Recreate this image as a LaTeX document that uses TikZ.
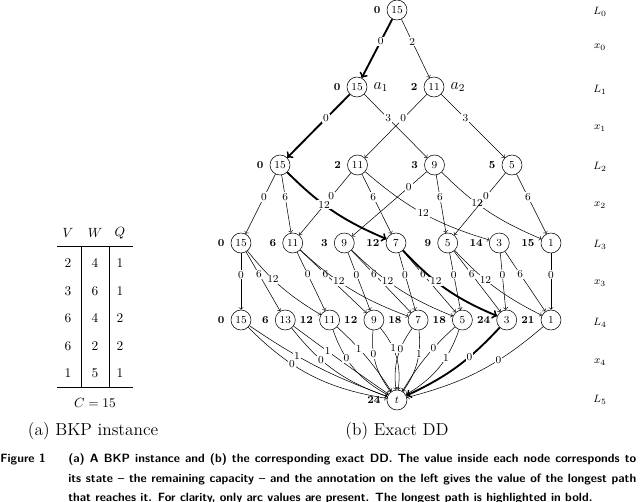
\documentclass[tikz,border=0pt]{standalone}
\usepackage{fontspec}
\tikzset{
  st/.style={circle,draw,line width=0.4pt,minimum size=15pt,inner sep=0pt,font=\footnotesize},
  val/.style={font=\footnotesize\bfseries},
  alab/.style={font=\large},
  edg/.style={->,line width=0.4pt},
  bestedg/.style={->,line width=1.4pt},
  elab/.style={fill=white,inner sep=0.8pt,font=\footnotesize,pos=0.38},
  lvl/.style={font=\footnotesize},
  tab/.style={font=\normalsize},
  sub/.style={font=\fontsize{13}{15}\selectfont},
  captxt/.style={font=\sffamily\bfseries\fontsize{9}{11}\selectfont,inner sep=0pt,anchor=base west},
}
\begin{document}
\begin{tikzpicture}[x=0.75pt,y=0.75pt,label distance=1.2pt]
\useasboundingbox (0,-501) rectangle (640,0);
\clip (0,-501) rectangle (640,0);
% ---------- nodes ----------
\node[st,label={[val]left:0}] (r) at (397,-10) {15};
\node[st,label={[val]left:0},label={[alab]right:$a_1$}] (a15) at (357,-87) {15};
\node[st,label={[val]left:2},label={[alab]right:$a_2$}] (a11) at (434,-87) {11};
\node[st,label={[val]left:0}] (b15) at (280,-165) {15};
\node[st,label={[val]left:2}] (b11) at (357.5,-165) {11};
\node[st,label={[val]left:3}] (b9) at (434.5,-165) {9};
\node[st,label={[val]left:5}] (b5) at (512,-165) {5};
\node[st,label={[val]left:0}] (c15) at (241,-243) {15};
\node[st,label={[val]left:6}] (c11) at (292.7,-243) {11};
\node[st,label={[val]left:3}] (c9) at (344.3,-243) {9};
\node[st,label={[val]left:12}] (c7) at (396,-243) {7};
\node[st,label={[val]left:9}] (c5) at (447.7,-243) {5};
\node[st,label={[val]left:14}] (c3) at (499.3,-243) {3};
\node[st,label={[val]left:15}] (c1) at (551,-243) {1};
\node[st,label={[val]left:0}] (d15) at (241,-320) {15};
\node[st,label={[val]left:6}] (d13) at (285.3,-320) {13};
\node[st,label={[val]left:12}] (d11) at (329.6,-320) {11};
\node[st,label={[val]left:12}] (d9) at (373.9,-320) {9};
\node[st,label={[val]left:18}] (d7) at (418.1,-320) {7};
\node[st,label={[val]left:18}] (d5) at (462.4,-320) {5};
\node[st,label={[val]left:24}] (d3) at (506.7,-320) {3};
\node[st,label={[val]left:21}] (d1) at (551,-320) {1};
\node[st,label={[val]left:24}] (t) at (397,-400) {$t$};
% ---------- x0 ----------
\draw[edg] (r) -- node[elab] {2} (a11);
% ---------- x1 ----------
\draw[edg] (a15) -- node[elab] {3} (b9);
\draw[edg] (a11) -- node[elab] {0} (b11);
\draw[edg] (a11) -- node[elab] {3} (b5);
% ---------- x2 ----------
\draw[edg] (b15) -- node[elab] {0} (c15);
\draw[edg] (b15) -- node[elab] {6} (c11);
\draw[edg] (b11) -- node[elab] {0} (c11);
\draw[edg] (b11) -- node[elab] {6} (c7);
\draw[edg] (b11) to[bend right=12] node[elab,pos=0.5] {12} (c3);
\draw[edg] (b9) -- node[elab,pos=0.24] {0} (c9);
\draw[edg] (b9) -- node[elab] {6} (c5);
\draw[edg] (b9) to[bend right=11] node[elab] {12} (c1);
\draw[edg] (b5) -- node[elab] {0} (c5);
\draw[edg] (b5) -- node[elab] {6} (c1);
% ---------- x3 ----------
\draw[edg] (c15) -- node[elab] {0} (d15);
\draw[edg] (c15) -- node[elab] {6} (d13);
\draw[edg] (c15) to[bend right=10] node[elab] {12} (d11);
\draw[edg] (c11) -- node[elab] {0} (d11);
\draw[edg] (c11) -- node[elab] {6} (d9);
\draw[edg] (c11) to[bend right=11] node[elab] {12} (d7);
\draw[edg] (c9) -- node[elab] {0} (d9);
\draw[edg] (c9) -- node[elab] {6} (d7);
\draw[edg] (c9) to[bend right=11] node[elab] {12} (d5);
\draw[edg] (c7) -- node[elab] {0} (d7);
\draw[edg] (c7) -- node[elab] {6} (d5);
\draw[edg] (c5) -- node[elab] {0} (d5);
\draw[edg] (c5) -- node[elab] {6} (d3);
\draw[edg] (c5) to[bend right=10] node[elab] {12} (d1);
\draw[edg] (c3) -- node[elab] {0} (d3);
\draw[edg] (c3) -- node[elab] {6} (d1);
\draw[edg] (c1) -- node[elab] {0} (d1);
% ---------- x4 ----------
\draw[edg] (d15) to[bend right=18] node[elab,pos=0.35] {0} (t);
\draw[edg] (d15) to[bend right=7] node[elab,pos=0.35] {1} (t);
\draw[edg] (d13) to[bend right=16] node[elab,pos=0.35] {0} (t);
\draw[edg] (d13) to[bend right=1] node[elab,pos=0.35] {1} (t);
\draw[edg] (d11) to[bend right=21] node[elab,pos=0.35] {0} (t);
\draw[edg] (d11) to[bend left=7] node[elab,pos=0.35] {1} (t);
\draw[edg] (d9) to[bend right=21] node[elab,pos=0.35] {0} (t);
\draw[edg] (d9) to[bend left=23] node[elab,pos=0.35] {1} (t);
\draw[edg] (d7) to[bend right=21] node[elab,pos=0.35] {0} (t);
\draw[edg] (d7) to[bend left=20] node[elab,pos=0.35] {1} (t);
\draw[edg] (d5) to[bend right=8] node[elab,pos=0.35] {0} (t);
\draw[edg] (d5) to[bend left=20] node[elab,pos=0.35] {1} (t);
\draw[edg] (d1) to[bend left=13] node[elab,pos=0.35] {0} (t);
% ---------- longest path ----------
\draw[bestedg] (r) -- node[elab] {0} (a15);
\draw[bestedg] (a15) -- node[elab] {0} (b15);
\draw[bestedg] (b15) to[bend right=11] node[elab,pos=0.4] {12} (c7);
\draw[bestedg] (c7) to[bend right=12] node[elab] {12} (d3);
\draw[bestedg] (d3) to[bend left=11] node[elab,pos=0.35] {0} (t);
% ---------- level labels ----------
\node[lvl] (l0) at (600,-12) {$L_0$};
\node[lvl] (y0) at (600,-47) {$x_0$};
\node[lvl] (l1) at (600,-90) {$L_1$};
\node[lvl] (y1) at (600,-128) {$x_1$};
\node[lvl] (l2) at (600,-167) {$L_2$};
\node[lvl] (y2) at (600,-205) {$x_2$};
\node[lvl] (l3) at (600,-245) {$L_3$};
\node[lvl] (y3) at (600,-283) {$x_3$};
\node[lvl] (l4) at (600,-323) {$L_4$};
\node[lvl] (y4) at (600,-362) {$x_4$};
\node[lvl] (l5) at (600,-400) {$L_5$};
% ---------- table ----------
\node[tab] (hv) at (68,-233) {$V$};
\node[tab] (hw) at (95,-233) {$W$};
\node[tab] (hq) at (120,-233) {$Q$};
\foreach \v/\w/\q/\y [count=\i] in {2/4/1/263,3/6/1/291,6/4/2/318,6/2/2/346,1/5/1/373}{
  \node[tab] (v\i) at (68,-\y) {\v};
  \node[tab] (w\i) at (95,-\y) {\w};
  \node[tab] (q\i) at (120,-\y) {\q};
}
\draw[line width=0.4pt] (57,-246) -- (133,-246);
\draw[line width=0.4pt] (57,-387) -- (133,-387);
\draw[line width=0.4pt] (81,-246) -- (81,-387);
\draw[line width=0.4pt] (109,-246) -- (109,-387);
\node[tab] (cc) at (95,-403) {$C=15$};
\node[sub] (sa) at (93,-431) {(a) BKP instance};
\node[sub] (sb) at (397,-431) {(b) Exact DD};
% ---------- caption ----------
\node[captxt] (fg) at (0,-462) {Figure 1};
\node[captxt] (cl1) at (68,-462) {\makebox[426pt][s]{(a) A BKP instance and (b) the corresponding exact DD. The value inside each node corresponds to}};
\node[captxt] (cl2) at (68,-482) {\makebox[426pt][s]{its state -- the remaining capacity -- and the annotation on the left gives the value of the longest path}};
\node[captxt] (cl3) at (68,-501.5) {that reaches it. For clarity, only arc values are present. The longest path is highlighted in bold.};
\end{tikzpicture}
\end{document}
